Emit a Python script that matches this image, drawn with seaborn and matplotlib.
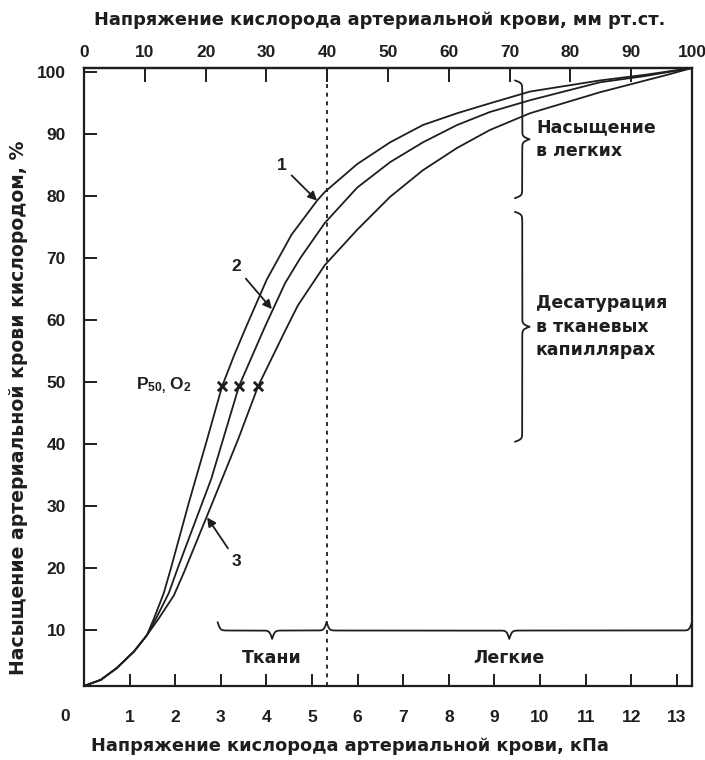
import numpy as np
import pandas as pd
import matplotlib
matplotlib.use("Agg")
import matplotlib.pyplot as plt
from matplotlib.transforms import blended_transform_factory
import seaborn as sns

# ---------------- data (kPa, % saturation) ----------------
curve1_kpa = [0, 0.37, 0.72, 1.10, 1.38, 1.54, 1.75, 1.91, 2.30, 2.70, 3.03, 3.30, 3.57,
              4.01, 4.55, 5.11, 5.28, 5.99, 6.71, 7.43, 8.18, 8.90, 9.78, 11.32, 12.3,
              13.332]
curve1_sat = [1.0, 2.0, 3.9, 6.6, 9.2, 12.0, 16.0, 20.1, 30.6, 40.8, 49.4, 54.5, 59.2,
              66.6, 73.8, 79.3, 80.7, 85.2, 88.7, 91.5, 93.4, 95.0, 96.9, 98.7, 99.6,
              100.7]

curve2_kpa = [0, 0.37, 0.72, 1.10, 1.38, 1.58, 1.86, 2.06, 2.57, 2.79, 3.05, 3.40, 3.97,
              4.41, 4.74, 5.28, 5.99, 6.71, 7.43, 8.18, 8.90, 9.78, 11.32, 12.3, 13.332]
curve2_sat = [1.0, 2.0, 3.9, 6.6, 9.2, 11.9, 16.0, 20.1, 30.1, 34.4, 40.8, 49.4, 59.0,
              66.0, 70.0, 75.7, 81.4, 85.5, 88.7, 91.5, 93.6, 95.5, 98.4, 99.4, 100.7]

curve3_kpa = [0, 0.37, 0.72, 1.10, 1.38, 1.64, 1.97, 2.19, 2.79, 3.38, 3.82, 4.41, 4.69,
              5.28, 5.99, 6.71, 7.43, 8.18, 8.90, 9.78, 11.32, 12.79, 13.332]
curve3_sat = [1.0, 2.0, 3.9, 6.6, 9.2, 11.9, 15.6, 19.3, 30.1, 40.8, 49.4, 58.3, 62.4,
              68.9, 74.6, 79.9, 84.2, 87.8, 90.7, 93.4, 96.8, 99.6, 100.7]

curve_names = ["1", "2", "3"]
p50_kpa = [3.03, 3.40, 3.82]
p50_sat = [49.4, 49.4, 49.4]

kpa_ticks = list(range(1, 14))
mmhg_ticks = list(range(0, 101, 10))
sat_ticks = list(range(10, 101, 10))

boundary_mmhg = 40                      # tissues / lungs boundary
label_curve = ["1", "2", "3"]
label_text_pos = [(4.33, 85.0), (3.33, 68.6), (3.35, 21.1)]
label_arrow_head = [(5.11, 79.3), (4.12, 61.8), (2.70, 28.2)]

brace_h_spans = [(2.93, 5.32), (5.32, 13.332)]     # kPa
brace_h_labels = ["Ткани", "Легкие"]
brace_v_spans = [(98.7, 79.7), (77.5, 40.4)]       # %
brace_v_labels = ["Насыщение\nв легких", "Десатурация\nв тканевых\nкапиллярах"]

xlabel_bottom = "Напряжение кислорода артериальной крови, кПа"
xlabel_top = "Напряжение кислорода артериальной крови, мм рт.ст."
ylabel = "Насыщение артериальной крови кислородом, %"

MMHG_PER_KPA = 7.50062

# ---------------- style ----------------
sns.set_theme(style="white")
plt.rcParams["font.family"] = ["Liberation Sans", "DejaVu Sans"]
plt.rcParams["font.weight"] = "bold"
plt.rcParams["mathtext.fontset"] = "custom"
plt.rcParams["mathtext.rm"] = "Liberation Sans"
plt.rcParams["mathtext.it"] = "Liberation Sans"
INK = "#1e1e1e"
FS = 12.5
WIDE = ["DejaVu Sans"]

fig = plt.figure(figsize=(7.05, 7.6), dpi=100)
fig.patch.set_facecolor("white")
ax = fig.add_axes([84 / 705, 1 - 686 / 760, 608 / 705, 618 / 760])

df = pd.concat([
    pd.DataFrame({"kpa": k, "sat": s, "curve": n})
    for k, s, n in zip([curve1_kpa, curve2_kpa, curve3_kpa],
                       [curve1_sat, curve2_sat, curve3_sat], curve_names)
])
sns.lineplot(data=df, x="kpa", y="sat", units="curve", estimator=None, sort=False,
             color=INK, lw=1.3, ax=ax, legend=False)
sns.scatterplot(x=p50_kpa, y=p50_sat, marker="x", s=45, color=INK,
                linewidth=2.0, ax=ax, legend=False, zorder=5)

ax.set_xlim(0, 100 / MMHG_PER_KPA)
ax.set_ylim(1.0, 100.7)

for sp in ax.spines.values():
    sp.set_visible(True)
    sp.set_color(INK)
    sp.set_linewidth(1.6)

ax.set_xticks(kpa_ticks)
ax.set_xticklabels([str(v) for v in kpa_ticks])
ax.set_yticks(sat_ticks)
ax.set_yticklabels([str(v) for v in sat_ticks])
ax.tick_params(axis="x", direction="in", length=9, width=1.4, colors=INK,
               labelsize=FS, pad=17, bottom=True)
ax.tick_params(axis="y", direction="in", length=9, width=1.4, colors=INK,
               labelsize=FS, pad=13, left=True)
for lab in ax.get_xticklabels() + ax.get_yticklabels():
    lab.set_fontweight("bold")

trans_b = blended_transform_factory(ax.transData, ax.transAxes)
ax.text(-0.42, -0.05, "0", transform=trans_b, ha="center", va="center",
        fontsize=FS, fontweight="bold", color=INK, clip_on=False)

secax = ax.secondary_xaxis("top", functions=(lambda k: k * MMHG_PER_KPA,
                                             lambda m: m / MMHG_PER_KPA))
secax.set_xticks(mmhg_ticks)
secax.set_xticklabels([str(v) for v in mmhg_ticks])
secax.tick_params(axis="x", direction="in", length=10, width=1.4, colors=INK,
                  labelsize=FS, pad=6)
for lab in secax.get_xticklabels():
    lab.set_fontweight("bold")
secax.spines["top"].set_linewidth(1.6)
secax.spines["top"].set_color(INK)

ax.set_xlabel(xlabel_bottom, fontsize=12.8, fontweight="bold", color=INK, family=WIDE)
ax.xaxis.set_label_coords(0.4375, -0.083)
fig.text(380 / 705, 1 - 20 / 760, xlabel_top, ha="center", va="center",
         fontsize=12.8, fontweight="bold", color=INK, family=WIDE)
ax.set_ylabel(ylabel, fontsize=13.6, fontweight="bold", color=INK, family=WIDE)
ax.yaxis.set_label_coords(-0.092, 0.45)

# boundary 40 mm Hg
ax.axvline(boundary_mmhg / MMHG_PER_KPA, color=INK, lw=1.3, ls=(0, (2.2, 2.6)))

# curve labels with arrows
for txt, tpos, head in zip(label_curve, label_text_pos, label_arrow_head):
    ax.annotate(txt, xy=head, xytext=tpos, ha="center", va="center",
                fontsize=FS, fontweight="bold", color=INK,
                arrowprops=dict(arrowstyle="-|>", color=INK, lw=1.3,
                                mutation_scale=13, shrinkA=2, shrinkB=0))

ax.text(1.13, 49.4, r"$\mathrm{P}_{50,}\,\mathrm{O}_{2}$", ha="left", va="center",
        fontsize=FS, color=INK)

# curly braces
fig.canvas.draw()


def brace(lo, hi, pos, width, vertical):
    if vertical:
        L = abs(ax.transData.transform((0, hi))[1] - ax.transData.transform((0, lo))[1])
    else:
        L = abs(ax.transData.transform((hi, 0))[0] - ax.transData.transform((lo, 0))[0])
    b = 0.75 * L
    u = np.linspace(0, 0.5, 301)
    h = 1 / (1 + np.exp(-b * u)) + 1 / (1 + np.exp(-b * (u - 0.5))) - 0.5
    h = np.concatenate([h, h[-2::-1]])
    t = lo + np.linspace(0, 1, len(h)) * (hi - lo)
    if vertical:
        ax.plot(pos + width * h, t, color=INK, lw=1.3, clip_on=False)
    else:
        ax.plot(t, pos + width * h, color=INK, lw=1.3, clip_on=False)


for (lo, hi), lab in zip(brace_h_spans, brace_h_labels):
    brace(lo, hi, 11.3, -2.7, vertical=False)
    ax.text((lo + hi) / 2, 5.5, lab, ha="center", va="center", fontsize=FS,
            fontweight="bold", color=INK, family=WIDE)

for (lo, hi), lab in zip(brace_v_spans, brace_v_labels):
    brace(lo, hi, 9.45, 0.32, vertical=True)
    ax.text(9.91, (lo + hi) / 2, lab, ha="left", va="center", fontsize=FS,
            fontweight="bold", color=INK, linespacing=1.4, family=WIDE)

fig.savefig("out.png", dpi=100, facecolor="white")
